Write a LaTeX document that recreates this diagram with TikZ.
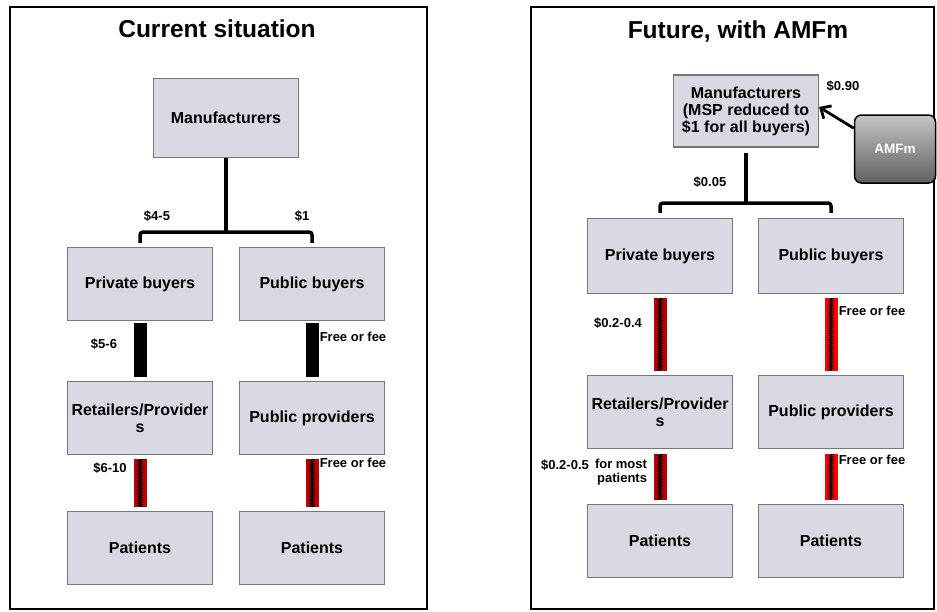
\documentclass[tikz,border=0pt]{standalone}
\usepackage{fontspec}
\setmainfont{Liberation Sans}
\usetikzlibrary{arrows.meta,decorations.pathmorphing}

\definecolor{boxfill}{HTML}{D9D9E3}
\definecolor{boxline}{HTML}{777777}
\definecolor{zipdark}{HTML}{C00000}
\definecolor{zipred}{HTML}{FF0000}

\begin{document}
\begin{tikzpicture}[x=1pt, y=-1pt,
    box/.style={rectangle, draw=boxline, line width=1.2pt, fill=boxfill, minimum width=145pt, minimum height=73pt, align=center, inner sep=1pt, font=\fontsize{16}{17}\selectfont\bfseries},
    title/.style={font=\fontsize{24.5}{26}\selectfont\bfseries},
    price/.style={font=\fontsize{13}{14.5}\selectfont\bfseries, inner sep=0pt, align=right},
    link/.style={line width=3.5pt, line cap=butt},
    blackbar/.style={line width=13pt, draw=black},
    zipbar/.style={line width=13pt, draw=#1,
      postaction={draw=black, line width=0.8pt},
      postaction={draw=black, line width=0.6pt, decorate, decoration={zigzag, amplitude=2.2pt, segment length=1.8pt}}},
    zipbar/.default=zipdark]
  \useasboundingbox (0,0) rectangle (937,611);

  % frames
  \draw[line width=2pt] (10,7) rectangle (427,609);
  \draw[line width=2pt] (531,7) rectangle (934,609);
  \node[title] (tL) at (217,29) {Current situation};
  \node[title] (tR) at (738,32) {Future, with AMFm};

  % current situation
  \node[box, minimum height=79pt] (mfgL) at (226,118) {Manufacturers};
  \node[box] (privL) at (140,284) {Private buyers};
  \node[box] (pubL) at (312,284) {Public buyers};
  \node[box] (retL) at (140,418) {Retailers/Provider\\s};
  \node[box] (ppL) at (312,418) {Public providers};
  \node[box] (patL) at (140,548) {Patients};
  \node[box] (patL2) at (312,548) {Patients};

  \coordinate (jL) at (226,232);
  \draw[link] (mfgL.south) -- (jL);
  \draw[link, rounded corners=3pt] ([yshift=4pt]privL.north) |- (jL) -| ([yshift=4pt]pubL.north);
  \draw[blackbar] ([yshift=-2pt]privL.south) -- ([yshift=4pt]retL.north);
  \draw[blackbar] ([yshift=-2pt]pubL.south) -- ([yshift=4pt]ppL.north);
  \draw[zipbar] ([yshift=-4pt]retL.south) -- ([yshift=4pt]patL.north);
  \draw[zipbar] ([yshift=-4pt]ppL.south) -- ([yshift=4pt]patL2.north);

  \node[price] (p45) at (157,216) {\$4-5};
  \node[price] (p1) at (302,216) {\$1};
  \node[price] (p56) at (104,344) {\$5-6};
  \node[price] (fee1) at (353,337) {Free or fee};
  \node[price] (p610) at (110,468) {\$6-10};
  \node[price] (fee2) at (353,463) {Free or fee};

  % future, with AMFm
  \node[box, minimum height=72pt] (mfgR) at (746,111) {Manufacturers\\(MSP reduced to\\\$1 for all buyers)};
  \node[rectangle, rounded corners=7pt, draw=black, line width=1.5pt, top color=gray!45, bottom color=gray!75!black, minimum width=81pt, minimum height=68pt, text=white, font=\fontsize{13.5}{15}\selectfont\bfseries] (amfm) at (895,149) {AMFm};
  \draw[line width=2.8pt, -{Straight Barb[length=8pt, width=15pt]}] ([yshift=-14pt]amfm.north west) -- ([yshift=4pt]mfgR.east);

  \node[box, minimum height=75pt] (privR) at (660,256) {Private buyers};
  \node[box, minimum height=75pt] (pubR) at (831,256) {Public buyers};
  \node[box] (retR) at (660,412) {Retailers/Provider\\s};
  \node[box] (ppR) at (831,412) {Public providers};
  \node[box] (patR) at (660,541) {Patients};
  \node[box] (patR2) at (831,541) {Patients};

  \coordinate (jR) at (746,203);
  \draw[link] ([yshift=-5pt]mfgR.south) -- (jR);
  \draw[link, rounded corners=3pt] ([yshift=5pt]privR.north) |- (jR) -| ([yshift=5pt]pubR.north);
  \draw[zipbar] ([yshift=-4pt]privR.south) -- ([yshift=4pt]retR.north);
  \draw[zipbar=zipred] ([yshift=-4pt]pubR.south) -- ([yshift=4pt]ppR.north);
  \draw[zipbar] ([yshift=-5pt]retR.south) -- ([yshift=4pt]patR.north);
  \draw[zipbar=zipred] ([yshift=-5pt]ppR.south) -- ([yshift=4pt]patR2.north);

  \node[price] (p090) at (843,86) {\$0.90};
  \node[price] (p005) at (710,182) {\$0.05};
  \node[price] (p0204) at (618,323) {\$0.2-0.4};
  \node[price] (fee3) at (872,311) {Free or fee};
  \node[price] (p0205) at (565,465) {\$0.2-0.5};
  \node[price] (most) at (621,472) {for most\\patients};
  \node[price] (fee4) at (872,460) {Free or fee};
\end{tikzpicture}
\end{document}
